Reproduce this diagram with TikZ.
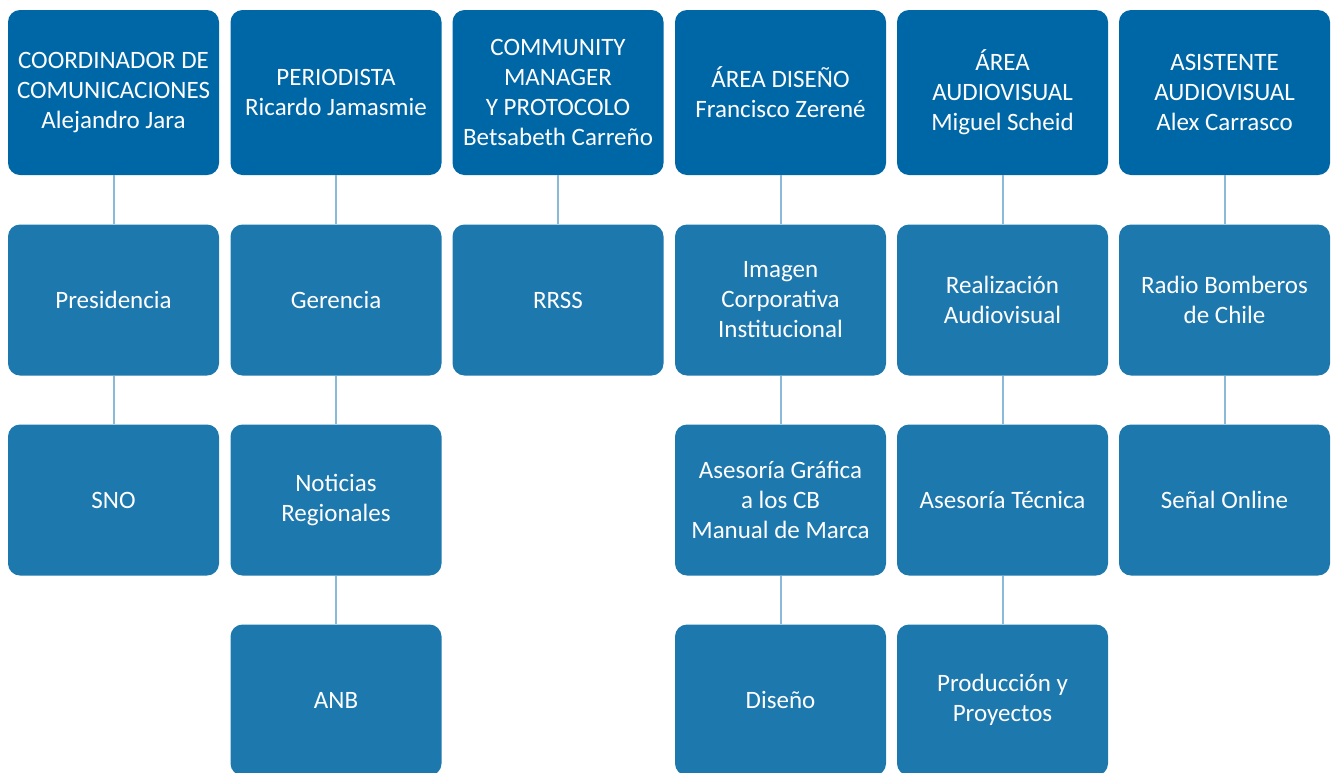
\documentclass[tikz,border=0pt]{standalone}
\usepackage{fontspec}
\setmainfont{Carlito}
\usepackage{xcolor}
\usepackage{tikz}
\usetikzlibrary{positioning}
\definecolor{jefe}{RGB}{0,103,167}
\definecolor{area}{RGB}{29,120,174}
\definecolor{linea}{RGB}{138,186,216}

\begin{document}
\begin{tikzpicture}[x=1pt,y=-1pt,
	caja/.style={rounded corners=12pt,minimum width=211pt,align=center,text=white,
		font=\fontsize{25}{30}\selectfont,inner sep=2pt},
	jefebox/.style={caja,fill=jefe,minimum height=165pt},
	areabox/.style={caja,fill=area,minimum height=151pt},
	enlace/.style={draw=linea,line width=2pt}]
	\useasboundingbox (0,0) rectangle (1332,772);
	\clip (0,0) rectangle (1332,772);
	% cabezas
	\node[jefebox] (coord) at (113.5,92.5) {COORDINADOR DE\\COMUNICACIONES\\Alejandro Jara};
	\node[jefebox] (perio) at (336,92.5) {PERIODISTA\\Ricardo Jamasmie};
	\node[jefebox] (cm) at (558,92.5) {COMMUNITY\\MANAGER\\Y PROTOCOLO\\Betsabeth Carreño};
	\node[jefebox] (dis) at (780.5,92.5) {ÁREA DISEÑO\\Francisco Zerené};
	\node[jefebox] (av) at (1002.5,92.5) {ÁREA\\AUDIOVISUAL\\Miguel Scheid};
	\node[jefebox] (asis) at (1224.5,92.5) {ASISTENTE\\AUDIOVISUAL\\Alex Carrasco};
	% segunda fila
	\node[areabox] (pres) at (113.5,300) {Presidencia};
	\node[areabox] (ger) at (336,300) {Gerencia};
	\node[areabox] (rrss) at (558,300) {RRSS};
	\node[areabox] (imag) at (780.5,300) {Imagen\\Corporativa\\Institucional};
	\node[areabox] (real) at (1002.5,300) {Realización\\Audiovisual};
	\node[areabox] (radio) at (1224.5,300) {Radio Bomberos\\de Chile};
	% tercera fila
	\node[areabox] (sno) at (113.5,500) {SNO};
	\node[areabox] (not) at (336,500) {Noticias\\Regionales};
	\node[areabox] (graf) at (780.5,500) {Asesoría Gráfica\\a los CB\\Manual de Marca};
	\node[areabox] (tec) at (1002.5,500) {Asesoría Técnica};
	\node[areabox] (senal) at (1224.5,500) {Señal Online};
	% cuarta fila
	\node[areabox] (anb) at (336,700) {ANB};
	\node[areabox] (dsn) at (780.5,700) {Diseño};
	\node[areabox] (prod) at (1002.5,700) {Producción y\\Proyectos};
	% enlaces
	\draw[enlace] (coord) -- (pres);
	\draw[enlace] (pres) -- (sno);
	\draw[enlace] (perio) -- (ger);
	\draw[enlace] (ger) -- (not);
	\draw[enlace] (not) -- (anb);
	\draw[enlace] (cm) -- (rrss);
	\draw[enlace] (dis) -- (imag);
	\draw[enlace] (imag) -- (graf);
	\draw[enlace] (graf) -- (dsn);
	\draw[enlace] (av) -- (real);
	\draw[enlace] (real) -- (tec);
	\draw[enlace] (tec) -- (prod);
	\draw[enlace] (asis) -- (radio);
	\draw[enlace] (radio) -- (senal);
\end{tikzpicture}
\end{document}
